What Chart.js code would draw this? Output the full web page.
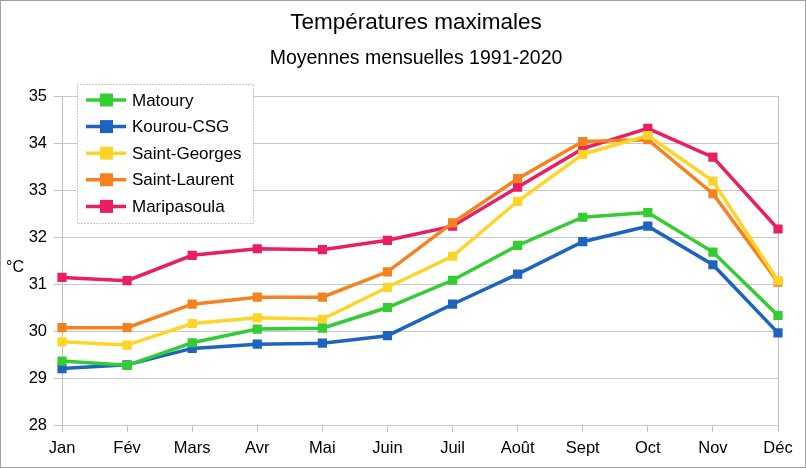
<!DOCTYPE html>
<html>
<head>
<meta charset="utf-8">
<script src="https://cdn.jsdelivr.net/npm/chart.js@4"></script>
<style>
body { margin: 0; background: #fff; }
</style>
</head>
<body>
<canvas id="chart" width="806" height="468"></canvas>
<script>
// months and monthly mean max temperatures (°C)
const months = ['Jan', 'Fév', 'Mars', 'Avr', 'Mai', 'Juin', 'Juil', 'Août', 'Sept', 'Oct', 'Nov', 'Déc'];
const matoury = [29.36, 29.27, 29.75, 30.04, 30.06, 30.50, 31.08, 31.82, 32.42, 32.52, 31.68, 30.33];
const kourou = [29.20, 29.28, 29.63, 29.72, 29.74, 29.90, 30.57, 31.21, 31.90, 32.23, 31.41, 29.96];
const saintGeorges = [29.77, 29.70, 30.16, 30.28, 30.25, 30.93, 31.59, 32.76, 33.76, 34.16, 33.19, 31.07];
const saintLaurent = [30.07, 30.07, 30.57, 30.72, 30.72, 31.26, 32.30, 33.24, 34.03, 34.07, 32.92, 31.04];
const maripasoula = [31.14, 31.07, 31.61, 31.75, 31.73, 31.93, 32.23, 33.06, 33.88, 34.31, 33.70, 32.17];
const yTicks = [28, 29, 30, 31, 32, 33, 34, 35];

const FONT = "'Liberation Sans', Arial, sans-serif";

function serie(label, data, color) {
    return {
        label: label,
        data: data,
        borderColor: color,
        backgroundColor: color,
        borderWidth: 3.5,
        pointStyle: 'rect',
        pointRadius: 6.5,
        pointHoverRadius: 6.5,
        pointBorderWidth: 0,
        tension: 0
    };
}

// legend drawn inside the plot, over the grid, with a dotted frame
const insideLegend = {
    id: 'insideLegend',
    afterDatasetsDraw(chart) {
        const ctx = chart.ctx;
        const a = chart.chartArea;
        const bx = a.left + 15, by = a.top - 12, bw = 176, bh = 139;
        ctx.save();
        ctx.fillStyle = '#fff';
        ctx.fillRect(bx, by, bw, bh);
        ctx.setLineDash([1, 2]);
        ctx.strokeStyle = '#999';
        ctx.lineWidth = 1;
        ctx.strokeRect(bx + 0.5, by + 0.5, bw, bh);
        ctx.setLineDash([]);
        chart.data.datasets.forEach((ds, i) => {
            const cy = by + 16 + i * 26.6;
            ctx.strokeStyle = ds.borderColor;
            ctx.lineWidth = 3.5;
            ctx.beginPath();
            ctx.moveTo(bx + 9, cy);
            ctx.lineTo(bx + 49, cy);
            ctx.stroke();
            ctx.fillStyle = ds.borderColor;
            ctx.fillRect(bx + 23, cy - 6.5, 13, 13);
            ctx.fillStyle = '#000';
            ctx.font = '17px ' + FONT;
            ctx.textBaseline = 'middle';
            ctx.fillText(ds.label, bx + 55, cy + 1);
        });
        ctx.restore();
    },
    afterDraw(chart) {
        const ctx = chart.ctx;
        ctx.save();
        ctx.fillStyle = '#000';
        ctx.textBaseline = 'middle';
        ctx.textAlign = 'center';
        ctx.font = '22.5px ' + FONT;
        ctx.fillText('Températures maximales', 416, 23);
        ctx.font = '19.5px ' + FONT;
        ctx.fillText('Moyennes mensuelles 1991-2020', 416, 59);
        ctx.textAlign = 'left';
        ctx.font = '16px ' + FONT;
        ctx.fillText('°C', 6, 268);
        ctx.strokeStyle = '#a0a0a0';
        ctx.lineWidth = 1;
        ctx.strokeRect(0.5, 0.5, chart.width - 1, chart.height - 1);
        ctx.restore();
    }
};

new Chart(document.getElementById('chart'), {
    type: 'line',
    data: {
        labels: months,
        datasets: [
            serie('Matoury', matoury, '#33cc33'),
            serie('Kourou-CSG', kourou, '#1c64c0'),
            serie('Saint-Georges', saintGeorges, '#ffd428'),
            serie('Saint-Laurent', saintLaurent, '#f5821f'),
            serie('Maripasoula', maripasoula, '#e91e63')
        ]
    },
    options: {
        responsive: false,
        animation: false,
        layout: { padding: { left: 0, right: 28, top: 96, bottom: 0 } },
        plugins: {
            legend: { display: false },
            tooltip: { enabled: false },
            title: { display: false },
            subtitle: { display: false }
        },
        scales: {
            x: {
                afterFit(scale) { scale.height = 43; },
                grid: {
                    color: c => (c.index === 0 || c.index === months.length - 1) ? '#c0c0c0' : 'transparent',
                    tickColor: '#c0c0c0',
                    tickLength: 7,
                    lineWidth: 1
                },
                border: { display: false },
                ticks: { color: '#000', font: { family: FONT, size: 16.5 }, padding: 7, maxRotation: 0, autoSkip: false }
            },
            y: {
                min: yTicks[0],
                max: yTicks[yTicks.length - 1],
                afterFit(scale) { scale.width = 62; },
                afterBuildTicks(scale) { scale.ticks = yTicks.map(v => ({ value: v })); },
                grid: { color: '#c8c8c8', tickColor: '#c0c0c0', tickLength: 8, lineWidth: 1 },
                border: { display: false },
                ticks: { color: '#000', font: { family: FONT, size: 16.5 }, padding: 7 }
            }
        }
    },
    plugins: [insideLegend]
});
</script>
</body>
</html>
